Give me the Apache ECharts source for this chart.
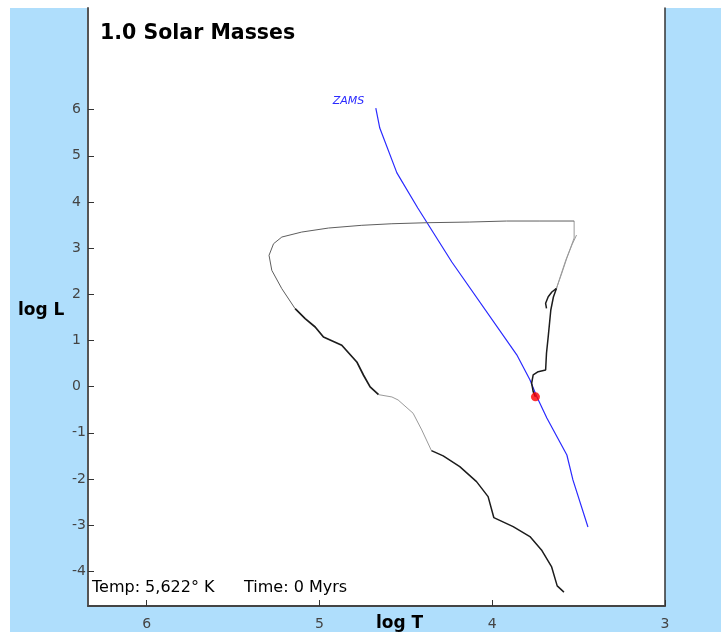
<!DOCTYPE html>
<html>
<head>
<meta charset="utf-8">
<title>1.0 Solar Masses</title>
<script src="https://cdn.jsdelivr.net/npm/echarts@6/dist/echarts.min.js"></script>
<style>
  html, body { margin: 0; padding: 0; background: #fff; }
  #chart { width: 721px; height: 639px; }
</style>
</head>
<body>
<div id="chart"></div>
<script>
// Evolutionary track of a 1.0 solar-mass star in the H-R diagram (log T vs log L)
const starMass = 1.0;
const currentTempK = 5622;
const currentLogL = -0.22;
const currentAgeMyrs = 0;

const xTickValues = [6, 5, 4, 3];
const yTickValues = [-4, -3, -2, -1, 0, 1, 2, 3, 4, 5, 6];

// Zero-age main sequence
const zamsLogT = [4.674, 4.651, 4.552, 4.431, 4.234, 3.858, 3.782, 3.742, 3.684, 3.568, 3.533, 3.446];
const zamsLogL = [6.03, 5.60, 4.63, 3.87, 2.70, 0.69, 0.15, -0.22, -0.68, -1.48, -2.02, -3.04];

// Track pieces, [log T, log L]
const mainSequenceToRGB = [
  [3.750, -0.22], [3.763, -0.108], [3.772, 0.074], [3.763, 0.253], [3.734, 0.325],
  [3.691, 0.361], [3.686, 0.723], [3.676, 1.082], [3.661, 1.660], [3.646, 1.942], [3.628, 2.130]
];
const upperRGB = [
  [3.628, 2.130], [3.597, 2.461], [3.568, 2.786], [3.539, 3.067], [3.512, 3.284]
];
const horizontalBranch = [
  [3.686, 1.697], [3.691, 1.805], [3.676, 1.948], [3.655, 2.050], [3.628, 2.130]
];
const asymptoticBranch = [
  [3.628, 2.130], [3.603, 2.418], [3.574, 2.742], [3.545, 3.024], [3.526, 3.219], [3.526, 3.587]
];
const postAGB = [
  [3.526, 3.587], [3.724, 3.587], [3.917, 3.587], [4.130, 3.565], [4.380, 3.550],
  [4.581, 3.528], [4.755, 3.494], [4.948, 3.435], [5.103, 3.348], [5.218, 3.240],
  [5.266, 3.095], [5.292, 2.844], [5.276, 2.519], [5.218, 2.121], [5.141, 1.688]
];
const coolingA = [
  [5.141, 1.688], [5.083, 1.472], [5.025, 1.292], [4.977, 1.076], [4.871, 0.896],
  [4.784, 0.535], [4.745, 0.247], [4.707, -0.006], [4.658, -0.173]
];
const coolingB = [
  [4.658, -0.173], [4.581, -0.223], [4.545, -0.288], [4.458, -0.576], [4.408, -0.937], [4.352, -1.385]
];
const coolingC = [
  [4.352, -1.385], [4.284, -1.500], [4.188, -1.732], [4.091, -2.056], [4.024, -2.381],
  [3.991, -2.835], [3.879, -3.030], [3.782, -3.247], [3.715, -3.535], [3.657, -3.896],
  [3.624, -4.314], [3.585, -4.450]
];

const DARK = '#1c1c1c';
const LIGHT = '#9a9a9a';
const MID = '#5e5e5e';
const ZAMS_BLUE = '#2a2aff';

function trackSeries(name, data, color, width) {
  return {
    name: name,
    type: 'line',
    data: data,
    showSymbol: false,
    silent: true,
    lineStyle: { color: color, width: width },
    z: 3
  };
}

const zamsData = zamsLogT.map((t, i) => [t, zamsLogL[i]]);
const fmtTemp = currentTempK.toLocaleString('en-US');

const chart = echarts.init(document.getElementById('chart'), null, { renderer: 'canvas' });
chart.setOption({
  animation: false,
  backgroundColor: '#ffffff',
  graphic: [
    {
      type: 'rect',
      z: -100,
      shape: { x: 10, y: 8, width: 711, height: 624 },
      style: { fill: '#afdefc' }
    },
    {
      type: 'text',
      left: 100, top: 23,
      style: {
        text: starMass.toFixed(1) + ' Solar Masses',
        fontSize: 20.5, fontWeight: 'bold', fontFamily: 'DejaVu Sans', fill: '#000'
      },
      z: 10
    },
    {
      type: 'text',
      left: 92, top: 580,
      style: {
        text: 'Temp: ' + fmtTemp + '\u00b0 K',
        fontSize: 16, fontFamily: 'DejaVu Sans', fill: '#000'
      },
      z: 10
    },
    {
      type: 'text',
      left: 244, top: 580,
      style: {
        text: 'Time: ' + currentAgeMyrs + ' Myrs',
        fontSize: 16, fontFamily: 'DejaVu Sans', fill: '#000'
      },
      z: 10
    },
    {
      type: 'text',
      left: 376, top: 615,
      style: { text: 'log T', fontSize: 17, fontWeight: 'bold', fontFamily: 'DejaVu Sans', fill: '#000' },
      z: 10
    },
    {
      type: 'text',
      left: 18, top: 302,
      style: { text: 'log L', fontSize: 17, fontWeight: 'bold', fontFamily: 'DejaVu Sans', fill: '#000' },
      z: 10
    }
  ],
  grid: {
    left: 88, right: 56, top: 8, bottom: 33,
    show: true,
    backgroundColor: '#ffffff',
    borderWidth: 0
  },
  xAxis: {
    type: 'value',
    inverse: true,
    min: 3,
    max: 6.34,
    axisLine: { show: true, onZero: false, lineStyle: { color: '#444', width: 2 } },
    axisTick: { show: true, inside: true, length: 6, customValues: xTickValues, lineStyle: { color: '#333', width: 1 } },
    axisLabel: { customValues: xTickValues, margin: 11, fontSize: 14, color: '#444', fontFamily: 'DejaVu Sans' },
    splitLine: { show: false }
  },
  yAxis: [
    {
      type: 'value',
      min: -4.75,
      max: 8.2,
      axisLine: { show: true, onZero: false, lineStyle: { color: '#555', width: 2 } },
      axisTick: { show: true, inside: true, length: 6, customValues: yTickValues, lineStyle: { color: '#333', width: 1 } },
      axisLabel: { customValues: yTickValues, align: 'left', margin: 16, fontSize: 14, color: '#444', fontFamily: 'DejaVu Sans' },
      splitLine: { show: false }
    },
    {
      type: 'value',
      position: 'right',
      min: -4.75,
      max: 8.2,
      axisLine: { show: true, onZero: false, lineStyle: { color: '#333', width: 1.5 } },
      axisTick: { show: false },
      axisLabel: { show: false },
      splitLine: { show: false }
    }
  ],
  series: [
    {
      name: 'ZAMS',
      type: 'line',
      data: zamsData,
      showSymbol: false,
      silent: true,
      lineStyle: { color: ZAMS_BLUE, width: 1.2 },
      z: 2,
      markPoint: {
        silent: true,
        symbol: 'circle',
        symbolSize: 1,
        itemStyle: { color: 'rgba(0,0,0,0)' },
        label: {
          show: true,
          formatter: 'ZAMS',
          position: 'left',
          distance: 11,
          offset: [0, -7],
          color: ZAMS_BLUE,
          fontStyle: 'italic',
          fontSize: 11,
          fontFamily: 'DejaVu Sans'
        },
        data: [{ coord: zamsData[0] }]
      }
    },
    trackSeries('Main sequence to RGB', mainSequenceToRGB, DARK, 1.5),
    trackSeries('Upper RGB', upperRGB, LIGHT, 1),
    trackSeries('Horizontal branch', horizontalBranch, DARK, 1.5),
    trackSeries('AGB', asymptoticBranch, LIGHT, 1),
    trackSeries('Post-AGB', postAGB, MID, 1),
    trackSeries('Cooling A', coolingA, DARK, 1.7),
    trackSeries('Cooling B', coolingB, LIGHT, 1),
    trackSeries('Cooling C', coolingC, DARK, 1.5),
    {
      name: 'Current',
      type: 'scatter',
      data: [[Math.log10(currentTempK), currentLogL]],
      symbol: 'circle',
      symbolSize: 9,
      itemStyle: { color: '#ff0000' },
      z: 5
    }
  ]
});
</script>
</body>
</html>
